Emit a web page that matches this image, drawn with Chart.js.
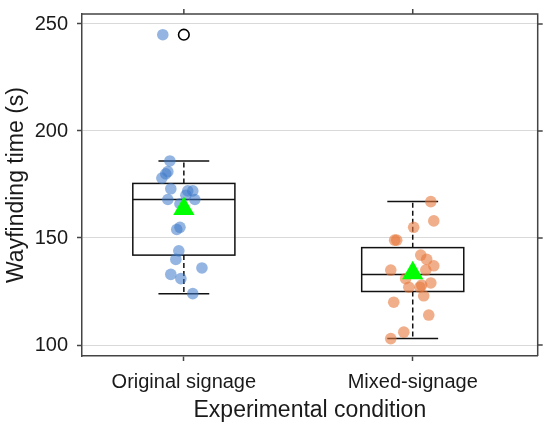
<!DOCTYPE html>
<html>
<head>
<meta charset="utf-8">
<script src="https://cdn.jsdelivr.net/npm/chart.js@4.4.0/dist/chart.umd.min.js"></script>
<style>
  html, body { margin: 0; padding: 0; background: #fff; }
  #wrap { width: 550px; height: 428px; }
</style>
</head>
<body>
<div id="wrap"><canvas id="chart" width="550" height="428"></canvas></div>
<script>
// categories and tick labels
var categories = ['Original signage', 'Mixed-signage'];
var yTicks = [100, 150, 200, 250];

// raw observations (x = jittered position around the category, y = seconds)
var originalX = [0.939, 0.930, 0.921, 0.904, 0.943, 1.017, 1.039, 1.009, 0.930, 1.048,
                 0.983, 0.983, 0.969, 0.978, 0.965, 1.079, 0.943, 0.987, 1.039, 0.908];
var originalY = [186, 181, 180, 178, 173, 172, 172, 170, 168, 168,
                 166, 155, 154, 144, 140, 136, 133, 131, 124, 245];
var mixedX = [2.079, 2.092, 2.004, 1.921, 1.930, 2.035, 2.061, 2.092, 1.904, 2.057,
              1.969, 2.079, 2.039, 1.983, 2.031, 2.048, 1.917, 2.070, 1.961, 1.904];
var mixedY = [167, 158, 155, 149, 149, 142, 140, 137, 135, 135,
              131, 129, 128, 127, 127, 123, 120, 114, 106, 103];

// box plot summaries per condition
var whiskerLow  = [124, 103];
var quartile1   = [142, 125];
var medians     = [168, 133];
var quartile3   = [175.5, 145.5];
var whiskerHigh = [186, 167];
var means       = [163.6, 133.6];
var outlierY    = [245]; // original signage only

var FONT = '"Liberation Sans", Arial, sans-serif';
var BOX_HALF = 0.223;
var CAP_HALF = 0.111;

function toPoints(xs, ys) {
    return xs.map(function (x, i) { return { x: x, y: ys[i] }; });
}

// boxes and whiskers, drawn under the points
var boxPlugin = {
    id: 'boxes',
    beforeDatasetsDraw: function (chart) {
        var ctx = chart.ctx, sx = chart.scales.x, sy = chart.scales.y;
        ctx.save();
        ctx.strokeStyle = '#111';
        ctx.lineWidth = 1.5;
        for (var i = 0; i < categories.length; i++) {
            var c = i + 1;
            var xl = sx.getPixelForValue(c - BOX_HALF), xr = sx.getPixelForValue(c + BOX_HALF);
            var xm = sx.getPixelForValue(c);
            var cl = sx.getPixelForValue(c - CAP_HALF), cr = sx.getPixelForValue(c + CAP_HALF);
            var yq1 = sy.getPixelForValue(quartile1[i]), yq3 = sy.getPixelForValue(quartile3[i]);
            var ymed = sy.getPixelForValue(medians[i]);
            var ylo = sy.getPixelForValue(whiskerLow[i]), yhi = sy.getPixelForValue(whiskerHigh[i]);

            // dashed whiskers
            ctx.setLineDash([5, 3]);
            ctx.beginPath();
            ctx.moveTo(xm, yq3); ctx.lineTo(xm, yhi);
            ctx.moveTo(xm, yq1); ctx.lineTo(xm, ylo);
            ctx.stroke();
            ctx.setLineDash([]);

            // caps
            ctx.beginPath();
            ctx.moveTo(cl, yhi); ctx.lineTo(cr, yhi);
            ctx.moveTo(cl, ylo); ctx.lineTo(cr, ylo);
            ctx.stroke();

            // box + median
            ctx.strokeRect(xl, yq3, xr - xl, yq1 - yq3);
            ctx.beginPath();
            ctx.moveTo(xl, ymed); ctx.lineTo(xr, ymed);
            ctx.stroke();
        }
        ctx.restore();
    }
};

// top and right frame with their small ticks
var framePlugin = {
    id: 'frame',
    afterDraw: function (chart) {
        var ctx = chart.ctx, a = chart.chartArea, sx = chart.scales.x, sy = chart.scales.y;
        ctx.save();
        ctx.strokeStyle = '#444';
        ctx.lineWidth = 1.5;
        ctx.beginPath();
        ctx.moveTo(a.left, a.top); ctx.lineTo(a.right, a.top); ctx.lineTo(a.right, a.bottom);
        categories.forEach(function (c, i) {
            var x = sx.getPixelForValue(i + 1);
            ctx.moveTo(x, a.top); ctx.lineTo(x, a.top - 5);
        });
        yTicks.forEach(function (v) {
            var y = sy.getPixelForValue(v);
            ctx.moveTo(a.right, y); ctx.lineTo(a.right + 5, y);
        });
        ctx.stroke();
        ctx.restore();
    }
};

var ctx = document.getElementById('chart').getContext('2d');
var chart = new Chart(ctx, {
    type: 'scatter',
    data: {
        datasets: [{
            label: 'Mean',
            data: means.map(function (m, i) { return { x: i + 1, y: m }; }),
            pointStyle: 'triangle',
            pointRadius: 12.3,
            backgroundColor: '#00ff00',
            borderColor: '#00ff00',
            borderWidth: 0,
            order: 0
        }, {
            label: 'Outliers',
            data: outlierY.map(function (v) { return { x: 1, y: v }; }),
            pointRadius: 5.3,
            backgroundColor: 'rgba(255,255,255,0)',
            borderColor: '#000',
            borderWidth: 1.6,
            order: 1
        }, {
            label: categories[0],
            data: toPoints(originalX, originalY),
            pointRadius: 5.8,
            backgroundColor: 'rgba(60,120,200,0.55)',
            borderWidth: 0,
            order: 2
        }, {
            label: categories[1],
            data: toPoints(mixedX, mixedY),
            pointRadius: 5.8,
            backgroundColor: 'rgba(230,120,60,0.6)',
            borderWidth: 0,
            order: 3
        }]
    },
    options: {
        responsive: false,
        animation: false,
        layout: { padding: { left: 0, top: 14, right: 12, bottom: 0 } },
        plugins: {
            legend: { display: false },
            tooltip: { enabled: false }
        },
        scales: {
            x: {
                type: 'linear',
                min: 0.555,
                max: 2.546,
                afterBuildTicks: function (s) { s.ticks = [{ value: 1 }, { value: 2 }]; },
                afterFit: function (s) { s.height = 72; s.paddingLeft = 0; s.paddingRight = 0; },
                ticks: {
                    callback: function (v) { return categories[v - 1]; },
                    color: '#1a1a1a',
                    font: { family: FONT, size: 20 },
                    padding: 9,
                    maxRotation: 0
                },
                grid: { drawOnChartArea: false, tickColor: '#444', tickLength: 5, tickWidth: 1.5 },
                border: { color: '#444', width: 1.5 },
                title: {
                    display: true,
                    text: 'Experimental condition',
                    color: '#1a1a1a',
                    font: { family: FONT, size: 23 },
                    padding: { top: 0, bottom: 4 }
                }
            },
            y: {
                min: 94.86,
                max: 254.67,
                afterBuildTicks: function (s) { s.ticks = yTicks.map(function (v) { return { value: v }; }); },
                afterFit: function (s) { s.width = 82; s.paddingTop = 0; s.paddingBottom = 0; },
                ticks: {
                    color: '#1a1a1a',
                    font: { family: FONT, size: 20 },
                    padding: 9
                },
                grid: { color: '#d9d9d9', lineWidth: 1, tickColor: '#444', tickLength: 5, tickWidth: 1.5 },
                border: { color: '#444', width: 1.5 },
                title: {
                    display: true,
                    text: 'Wayfinding time (s)',
                    color: '#1a1a1a',
                    font: { family: FONT, size: 23 },
                    padding: { top: 3, bottom: 0 }
                }
            }
        }
    },
    plugins: [boxPlugin, framePlugin]
});
</script>
</body>
</html>
